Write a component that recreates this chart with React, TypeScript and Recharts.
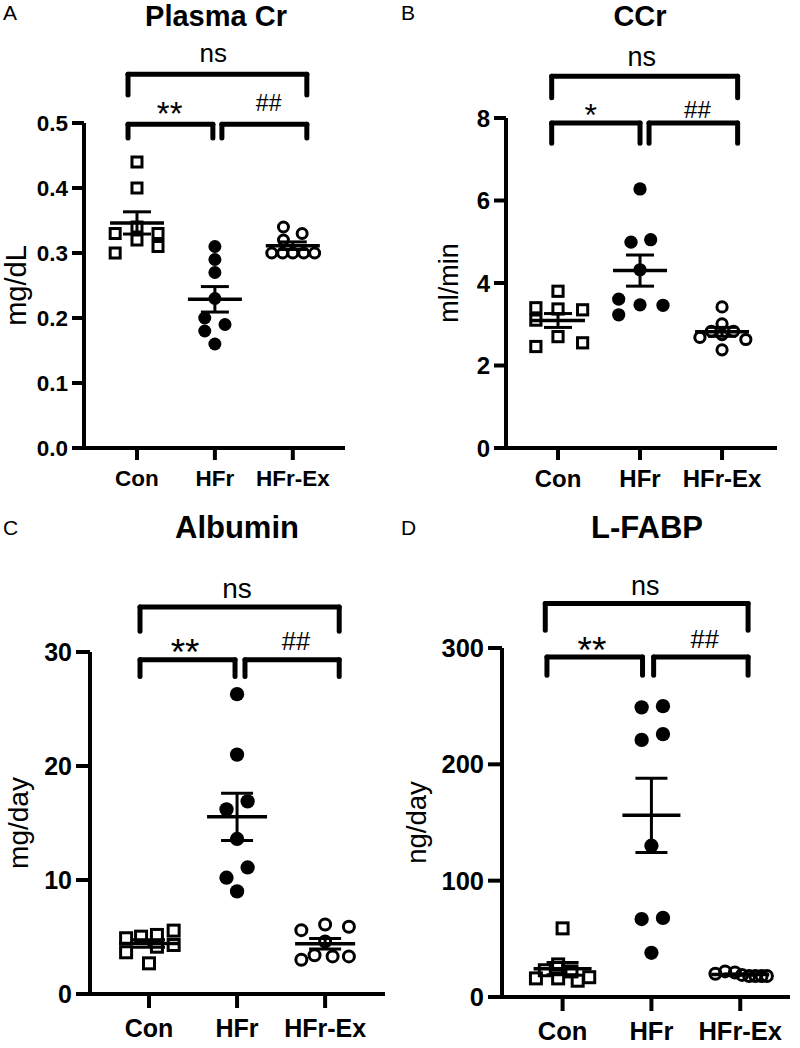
import React from 'react';
import { ScatterChart, Scatter, XAxis, YAxis, ReferenceLine, ReferenceDot, ErrorBar } from 'recharts';

const FONT = "'Liberation Sans', Arial, Helvetica, sans-serif";

const groups = ['Con', 'HFr', 'HFr-Ex'];

// Panel A: Plasma Cr (mg/dL)
const crTicks = [0, 0.1, 0.2, 0.3, 0.4, 0.5];
const crCon = [0.44, 0.40, 0.33, 0.34, 0.32, 0.33, 0.31, 0.30];
const crHFr = [0.31, 0.29, 0.27, 0.23, 0.20, 0.19, 0.18, 0.16];
const crEx = [0.34, 0.33, 0.32, 0.30, 0.30, 0.30, 0.30, 0.30];
const crConJitter = [0, 0, -0.28, 0, 0, 0.27, 0.27, -0.28];
const crHFrJitter = [0, 0, 0, 0, -0.13, 0.13, -0.13, 0];
const crExJitter = [-0.12, 0.12, -0.12, -0.27, -0.13, 0, 0.14, 0.28];

// Panel B: CCr (ml/min)
const ccrTicks = [0, 2, 4, 6, 8];
const ccrCon = [3.80, 3.40, 3.37, 3.35, 3.10, 2.70, 2.46, 2.55];
const ccrHFr = [6.28, 4.99, 5.05, 4.32, 3.61, 3.47, 3.46, 3.23];
const ccrEx = [3.42, 3.01, 2.83, 2.83, 2.68, 2.75, 2.63, 2.38];
const ccrConJitter = [0, -0.27, 0, 0.3, -0.27, 0, -0.27, 0.3];
const ccrHFrJitter = [0, -0.11, 0.13, 0, -0.26, 0, 0.28, -0.26];
const ccrExJitter = [0, 0, -0.13, 0.14, -0.27, 0, 0.29, 0];

// Panel C: Albumin (mg/day)
const albTicks = [0, 10, 20, 30];
const albCon = [4.89, 5.03, 5.18, 5.56, 3.66, 4.15, 4.30, 2.69];
const albHFr = [26.3, 21.0, 16.2, 16.9, 13.6, 10.2, 11.1, 9.0];
const albEx = [5.6, 6.1, 5.9, 4.6, 3.0, 3.4, 3.3, 3.3];
const albConJitter = [-0.26, -0.09, 0.09, 0.28, -0.26, 0.09, 0.28, 0];
const albHFrJitter = [0, 0, -0.12, 0.12, 0, -0.12, 0.12, 0];
const albExJitter = [-0.27, 0, 0.27, 0, -0.27, -0.12, 0.085, 0.27];

// Panel D: L-FABP (ng/day)
const fabpTicks = [0, 100, 200, 300];
const fabpCon = [59, 28, 23, 22, 16, 16, 14, 17];
const fabpHFr = [249, 250, 221, 226, 130, 67, 68, 38];
const fabpEx = [20, 22, 21, 19, 18, 18, 18, 18];
const fabpConJitter = [0, -0.05, -0.2, 0.1, -0.3, -0.05, 0.17, 0.3];
const fabpHFrJitter = [-0.11, 0.13, -0.11, 0.13, 0, -0.11, 0.13, 0];
const fabpExJitter = [-0.28, -0.17, -0.06, 0.02, 0.1, 0.17, 0.24, 0.3];

const mean = (a: number[]) => a.reduce((s, v) => s + v, 0) / a.length;
const sem = (a: number[]) => {
  const m = mean(a);
  const sd = Math.sqrt(a.reduce((s, v) => s + (v - m) * (v - m), 0) / (a.length - 1));
  return sd / Math.sqrt(a.length);
};

const makeShapes = (k: number) => [
  (p: any) => (
    <rect x={p.cx - 5 * k} y={p.cy - 5 * k} width={10 * k} height={10 * k} fill="none" stroke="#000" strokeWidth={3} />
  ),
  (p: any) => <circle cx={p.cx} cy={p.cy} r={6.5 * k} fill="#000" />,
  (p: any) => <circle cx={p.cx} cy={p.cy} r={5 * k} fill="none" stroke="#000" strokeWidth={3} />,
];

type Bracket = { x1: number; x2: number; top: number; end: number };
type Note = { t: string; x: number; y: number; size: number };

type PanelCfg = {
  left: number;
  top: number;
  width: number;
  height: number;
  margin: { top: number; right: number; bottom: number; left: number };
  yAxisWidth: number;
  xDomain: [number, number];
  yTicks: number[];
  yFmt: (v: number) => string;
  values: number[][];
  jitter: number[][];
  unit: string;
  unitX: number;
  unitSize: number;
  tickFont: number;
  tickSize: number;
  tickMargin: number;
  meanHalf: number;
  capHalf: number;
  marker: number;
  brackets: Bracket[];
  notes: Note[];
};

const panels: PanelCfg[] = [
  {
    left: 0, top: 0, width: 400, height: 520,
    margin: { top: 123, right: 55, bottom: 32, left: 0 },
    yAxisWidth: 84, xDomain: [0.32, 3.67], yTicks: crTicks, yFmt: (v) => v.toFixed(1),
    values: [crCon, crHFr, crEx], jitter: [crConJitter, crHFrJitter, crExJitter],
    unit: 'mg/dL', unitX: 16, unitSize: 29, tickFont: 22.5, tickSize: 12, tickMargin: 10,
    meanHalf: 27, capHalf: 14, marker: 1,
    brackets: [
      { x1: 0.885, x2: 3.18, top: 0.575, end: 0.543 },
      { x1: 0.885, x2: 1.974, top: 0.498, end: 0.477 },
      { x1: 2.09, x2: 3.18, top: 0.498, end: 0.477 },
    ],
    notes: [
      { t: 'ns', x: 1.98, y: 0.594, size: 26 },
      { t: '**', x: 1.42, y: 0.497, size: 33 },
      { t: '##', x: 2.69, y: 0.519, size: 23 },
    ],
  },
  {
    left: 400, top: 0, width: 400, height: 520,
    margin: { top: 118, right: 23, bottom: 32, left: 0 },
    yAxisWidth: 106, xDomain: [0.366, 3.67], yTicks: ccrTicks, yFmt: (v) => String(v),
    values: [ccrCon, ccrHFr, ccrEx], jitter: [ccrConJitter, ccrHFrJitter, ccrExJitter],
    unit: 'ml/min', unitX: 49, unitSize: 27, tickFont: 24, tickSize: 12, tickMargin: 10,
    meanHalf: 27, capHalf: 14, marker: 1.02,
    brackets: [
      { x1: 0.923, x2: 3.19, top: 9.01, end: 8.49 },
      { x1: 0.923, x2: 2.0, top: 7.88, end: 7.39 },
      { x1: 2.11, x2: 3.19, top: 7.88, end: 7.39 },
    ],
    notes: [
      { t: 'ns', x: 2.02, y: 9.25, size: 27 },
      { t: '*', x: 1.4, y: 7.8, size: 32 },
      { t: '##', x: 2.7, y: 8.0, size: 24 },
    ],
  },
  {
    left: 0, top: 520, width: 400, height: 528,
    margin: { top: 132, right: 15, bottom: 14, left: 0 },
    yAxisWidth: 90, xDomain: [0.33, 3.68], yTicks: albTicks, yFmt: (v) => String(v),
    values: [albCon, albHFr, albEx], jitter: [albConJitter, albHFrJitter, albExJitter],
    unit: 'mg/day', unitX: 18, unitSize: 28, tickFont: 25, tickSize: 14, tickMargin: 11,
    meanHalf: 30, capHalf: 16, marker: 1.1,
    brackets: [
      { x1: 0.898, x2: 3.16, top: 33.95, end: 31.81 },
      { x1: 0.898, x2: 1.977, top: 29.32, end: 27.86 },
      { x1: 2.09, x2: 3.16, top: 29.32, end: 27.86 },
    ],
    notes: [
      { t: 'ns', x: 2.0, y: 34.74, size: 28 },
      { t: '**', x: 1.41, y: 28.84, size: 37 },
      { t: '##', x: 2.67, y: 30.14, size: 25.5 },
    ],
  },
  {
    left: 400, top: 520, width: 400, height: 528,
    margin: { top: 128, right: 10, bottom: 11, left: 0 },
    yAxisWidth: 102, xDomain: [0.318, 3.56], yTicks: fabpTicks, yFmt: (v) => String(v),
    values: [fabpCon, fabpHFr, fabpEx], jitter: [fabpConJitter, fabpHFrJitter, fabpExJitter],
    unit: 'ng/day', unitX: 16, unitSize: 27.5, tickFont: 25.5, tickSize: 14, tickMargin: 11,
    meanHalf: 29, capHalf: 16, marker: 1.1,
    brackets: [
      { x1: 0.805, x2: 3.088, top: 338.2, end: 315.2 },
      { x1: 0.824, x2: 1.9, top: 292.3, end: 276.5 },
      { x1: 2.025, x2: 3.088, top: 292.3, end: 276.5 },
    ],
    notes: [
      { t: 'ns', x: 1.93, y: 345.3, size: 27 },
      { t: '**', x: 1.33, y: 287.5, size: 37 },
      { t: '##', x: 2.6, y: 300.3, size: 25.5 },
    ],
  },
];

const titles = [
  { t: 'A', title: 'Plasma Cr', lx: 3, ly: 20, tx: 216, ty: 26, size: 29 },
  { t: 'B', title: 'CCr', lx: 401, ly: 20, tx: 640, ty: 26, size: 29 },
  { t: 'C', title: 'Albumin', lx: 3, ly: 535, tx: 237, ty: 538, size: 31 },
  { t: 'D', title: 'L-FABP', lx: 401, ly: 535, tx: 647, ty: 538, size: 31 },
];

const lineStyle = { stroke: '#000', strokeWidth: 5, strokeLinecap: 'round' as const };

function Panel({ cfg }: { cfg: PanelCfg }) {
  const yMax = cfg.yTicks[cfg.yTicks.length - 1];
  const shapes = makeShapes(cfg.marker);
  const meanData = cfg.values.map((vals, gi) => ({ x: gi + 1, y: mean(vals), sem: sem(vals) }));
  const MeanLine = (p: any) => (
    <line x1={p.cx - cfg.meanHalf} x2={p.cx + cfg.meanHalf} y1={p.cy} y2={p.cy} stroke="#000" strokeWidth={3.5} />
  );
  const unitLabel = (lp: any) => {
    const vb = lp.viewBox;
    const cx = cfg.unitX;
    const cy = vb.y + vb.height / 2;
    return (
      <text
        x={cx}
        y={cy}
        transform={`rotate(-90, ${cx}, ${cy})`}
        textAnchor="middle"
        dominantBaseline="central"
        fontSize={cfg.unitSize}
        fontFamily={FONT}
        fill="#000"
      >
        {cfg.unit}
      </text>
    );
  };
  const tickStyle = { fontSize: cfg.tickFont, fontWeight: 700, fill: '#000', fontFamily: FONT };
  return (
    <div style={{ position: 'absolute', left: cfg.left, top: cfg.top }}>
      <ScatterChart width={cfg.width} height={cfg.height} margin={cfg.margin}>
        <XAxis
          type="number"
          dataKey="x"
          domain={cfg.xDomain}
          ticks={[1, 2, 3]}
          interval={0}
          allowDataOverflow
          height={40}
          tickFormatter={(v: number) => groups[v - 1]}
          axisLine={{ stroke: '#000', strokeWidth: 4 }}
          tickLine={{ stroke: '#000', strokeWidth: 4 }}
          tickSize={cfg.tickSize}
          tickMargin={cfg.tickMargin}
          tick={tickStyle}
        />
        <YAxis
          type="number"
          dataKey="y"
          domain={[0, yMax]}
          ticks={cfg.yTicks}
          interval={0}
          allowDataOverflow
          width={cfg.yAxisWidth}
          tickFormatter={cfg.yFmt}
          axisLine={{ stroke: '#000', strokeWidth: 4 }}
          tickLine={{ stroke: '#000', strokeWidth: 4 }}
          tickSize={cfg.tickSize}
          tickMargin={4}
          tick={tickStyle}
          label={unitLabel}
        />
        {cfg.values.map((vals, gi) => (
          <Scatter
            key={'g' + gi}
            data={vals.map((v, i) => ({ x: gi + 1 + cfg.jitter[gi][i], y: v }))}
            shape={shapes[gi]}
            isAnimationActive={false}
          />
        ))}
        <Scatter data={meanData} shape={MeanLine} isAnimationActive={false}>
          <ErrorBar dataKey="sem" direction="y" width={cfg.capHalf} strokeWidth={3} stroke="#000" isAnimationActive={false} />
        </Scatter>
        {cfg.brackets.flatMap((b, bi) => [
          <ReferenceLine key={`b${bi}a`} segment={[{ x: b.x1, y: b.end }, { x: b.x1, y: b.top }]} ifOverflow="visible" {...lineStyle} />,
          <ReferenceLine key={`b${bi}b`} segment={[{ x: b.x1, y: b.top }, { x: b.x2, y: b.top }]} ifOverflow="visible" {...lineStyle} />,
          <ReferenceLine key={`b${bi}c`} segment={[{ x: b.x2, y: b.top }, { x: b.x2, y: b.end }]} ifOverflow="visible" {...lineStyle} />,
        ])}
        {cfg.notes.map((n, ni) => (
          <ReferenceDot
            key={`n${ni}`}
            x={n.x}
            y={n.y}
            r={0}
            fill="none"
            stroke="none"
            ifOverflow="visible"
            label={(lp: any) => (
              <text
                x={lp.viewBox.x + lp.viewBox.width / 2}
                y={lp.viewBox.y + lp.viewBox.height / 2}
                textAnchor="middle"
                fontSize={n.size}
                fontFamily={FONT}
                fill="#000"
              >
                {n.t}
              </text>
            )}
          />
        ))}
      </ScatterChart>
    </div>
  );
}

export default function App() {
  return (
    <div style={{ position: 'absolute', left: 0, top: 0, width: 800, height: 1048, background: '#fff' }}>
      {panels.map((p, i) => (
        <Panel key={i} cfg={p} />
      ))}
      <svg width={800} height={1048} style={{ position: 'absolute', left: 0, top: 0, pointerEvents: 'none' }}>
        {titles.map((t) => (
          <g key={t.t}>
            <text x={t.lx} y={t.ly} fontSize={21} fontFamily={FONT} fill="#000">
              {t.t}
            </text>
            <text x={t.tx} y={t.ty} fontSize={t.size} fontWeight={700} textAnchor="middle" fontFamily={FONT} fill="#000">
              {t.title}
            </text>
          </g>
        ))}
      </svg>
    </div>
  );
}
